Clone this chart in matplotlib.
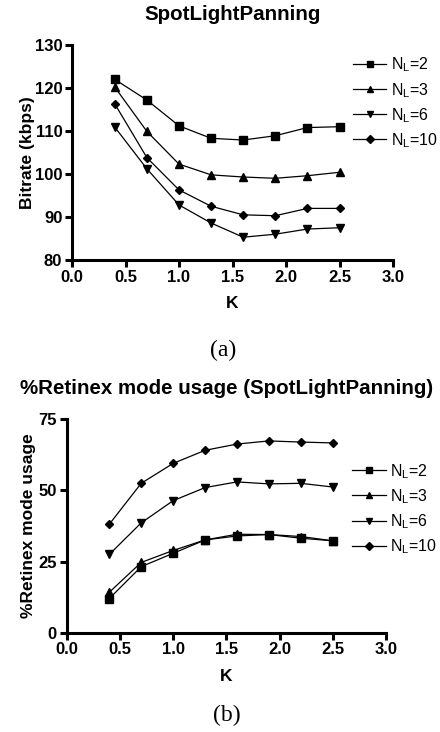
import matplotlib
matplotlib.use("Agg")
import matplotlib.pyplot as plt

plt.rcParams['font.family'] = ['Liberation Sans', 'DejaVu Sans']
plt.rcParams['mathtext.default'] = 'regular'

# Data
k = [0.4, 0.7, 1.0, 1.3, 1.6, 1.9, 2.2, 2.5]
labels = ['N$_L$=2', 'N$_L$=3', 'N$_L$=6', 'N$_L$=10']
markers = ['s', '^', 'v', 'D']

bitrate_nl2 = [122.0, 117.2, 111.2, 108.3, 107.9, 108.9, 110.8, 111.0]
bitrate_nl3 = [120.2, 109.9, 102.3, 99.8, 99.3, 99.0, 99.6, 100.4]
bitrate_nl6 = [110.9, 101.2, 92.8, 88.6, 85.3, 86.0, 87.2, 87.5]
bitrate_nl10 = [116.3, 103.8, 96.3, 92.5, 90.5, 90.3, 92.0, 92.0]

retinex_nl2 = [12.0, 23.2, 27.9, 32.6, 34.0, 34.5, 33.2, 32.3]
retinex_nl3 = [14.2, 24.7, 28.9, 32.6, 34.6, 34.5, 33.8, 32.3]
retinex_nl6 = [27.5, 38.6, 46.4, 51.0, 53.0, 52.3, 52.5, 51.2]
retinex_nl10 = [38.1, 52.5, 59.5, 64.1, 66.3, 67.4, 67.0, 66.7]

fig = plt.figure(figsize=(4.4, 7.32), dpi=100)
W, H = 440, 732


def make_axes(l, r, t, b):
    return fig.add_axes([l / W, 1 - b / H, (r - l) / W, (b - t) / H])


def style(ax):
    ax.spines['top'].set_visible(False)
    ax.spines['right'].set_visible(False)
    ax.spines['left'].set_linewidth(2.2)
    ax.spines['bottom'].set_linewidth(2.2)
    ax.tick_params(width=2.2, length=5, labelsize=12, pad=2)
    for t in ax.get_xticklabels() + ax.get_yticklabels():
        t.set_fontweight('bold')


def draw(ax, series, ylim, yticks, title, ylabel, leg_anchor, ylpad):
    for vals, lab, m in zip(series, labels, markers):
        ms = 4.5 if m == 'D' else 5.5
        ax.plot(k, vals, color='black', lw=0.9, marker=m, ms=ms, label=lab)
    ax.set_xlim(0, 3.0)
    ax.set_ylim(*ylim)
    ax.set_xticks([0.0, 0.5, 1.0, 1.5, 2.0, 2.5, 3.0])
    ax.set_xticklabels(['0.0', '0.5', '1.0', '1.5', '2.0', '2.5', '3.0'])
    ax.set_yticks(yticks)
    ax.set_title(title, fontsize=14.8, fontweight='bold', pad=18)
    ax.set_xlabel('K', fontsize=12.5, fontweight='bold', labelpad=8)
    ax.set_ylabel(ylabel, fontsize=12.5, fontweight='bold', labelpad=ylpad)
    style(ax)
    leg = ax.legend(loc='upper left', bbox_to_anchor=leg_anchor, frameon=False,
                    fontsize=11.5, handlelength=2.1, handletextpad=0.3,
                    labelspacing=0.4, borderaxespad=0, borderpad=0)
    for h in leg.legend_handles:
        h.set_markersize(4.5)


ax1 = make_axes(72, 393, 45, 260)
draw(ax1, [bitrate_nl2, bitrate_nl3, bitrate_nl6, bitrate_nl10],
     (80, 130), [80, 90, 100, 110, 120, 130],
     'SpotLightPanning', 'Bitrate (kbps)', (0.875, 0.95), 0)

ax2 = make_axes(66.7, 386, 419.3, 632.7)
draw(ax2, [retinex_nl2, retinex_nl3, retinex_nl6, retinex_nl10],
     (0, 75), [0, 25, 50, 75],
     '%Retinex mode usage (SpotLightPanning)', '%Retinex mode usage',
     (0.894, 0.80), 2)

fig.text(223 / W, 1 - 350 / H, '(a)', family='Liberation Serif',
         fontsize=17, ha='center', va='center')
fig.text(227 / W, 1 - 715 / H, '(b)', family='Liberation Serif',
         fontsize=17, ha='center', va='center')

fig.savefig('out.png', dpi=100)
